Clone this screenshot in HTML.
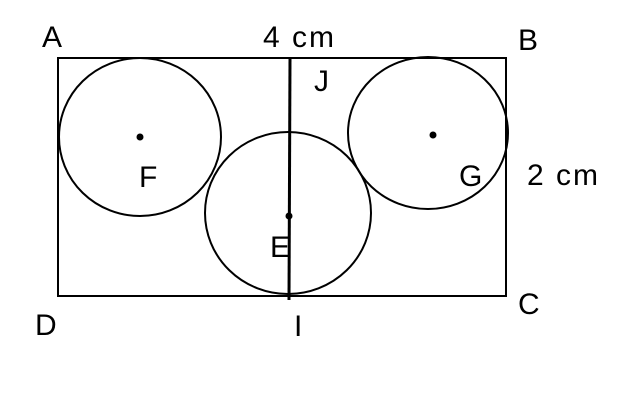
<!DOCTYPE html>
<html><head><style>body{margin:0;background:#fff}</style></head><body>
<svg width="634" height="402" xmlns="http://www.w3.org/2000/svg" font-family="Liberation Sans, sans-serif" font-size="30" fill="#000">
<rect x="58" y="58" width="448" height="238" fill="none" stroke="#000" stroke-width="2"/>
<ellipse cx="140" cy="137" rx="81" ry="79" fill="none" stroke="#000" stroke-width="2"/>
<ellipse cx="288" cy="213" rx="83" ry="81" fill="none" stroke="#000" stroke-width="2"/>
<ellipse cx="428" cy="133" rx="80" ry="76" fill="none" stroke="#000" stroke-width="2"/>
<line x1="290" y1="58" x2="289" y2="300" stroke="#000" stroke-width="3"/>
<circle cx="140" cy="137" r="3.5"/>
<circle cx="289" cy="216" r="3.5"/>
<circle cx="433" cy="135" r="3.5"/>
<text x="42" y="47">A</text>
<text x="263" y="47" textLength="71">4 cm</text>
<text x="518" y="50">B</text>
<text x="314" y="91">J</text>
<text x="139" y="187">F</text>
<text x="459" y="186">G</text>
<text x="527" y="185" textLength="71">2 cm</text>
<text x="270" y="257">E</text>
<text x="35" y="335">D</text>
<text x="294" y="336">I</text>
<text x="518" y="314">C</text>
</svg>
</body></html>
